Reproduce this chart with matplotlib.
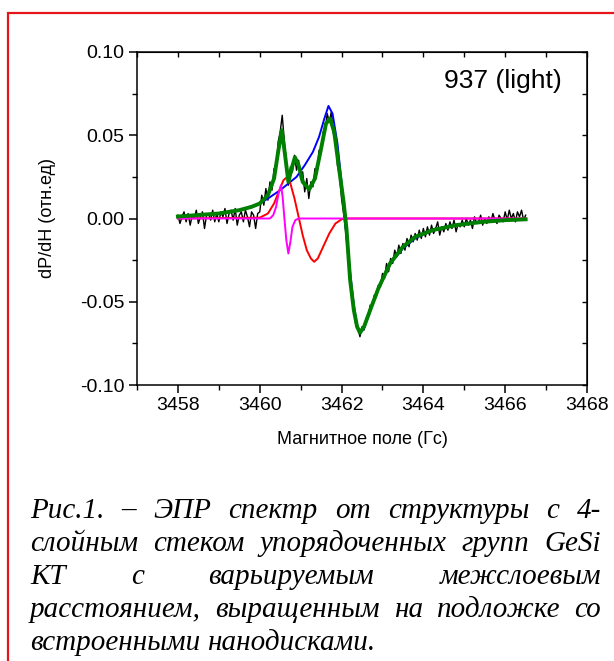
import matplotlib
matplotlib.use("Agg")
import matplotlib.pyplot as plt
from matplotlib.patches import Rectangle
from matplotlib.ticker import MultipleLocator, FormatStrFormatter
import numpy as np

W, H = 614, 661
SANS = "Liberation Sans"
SERIF = "Liberation Serif"

# measured spectrum: 171 samples, 3458.00 ... 3466.50 G, step 0.05 G
FIELD_START, FIELD_STOP, N_SAMPLES = 3458.0, 3466.5, 171
signal = [
    0.002, -0.003, 0.001, 0.004, -0.002, 0.003, -0.004, 0.002, 0.000, 0.005,
    -0.003, 0.001, 0.004, -0.006, 0.002, 0.003, -0.001, 0.005, -0.002, 0.003,
    -0.002, 0.004, 0.001, 0.006, -0.003, 0.003, 0.005, -0.001, 0.006, -0.004,
    0.002, 0.004, -0.002, 0.005, 0.001, -0.005, 0.004, 0.002, -0.006, 0.003,
    0.004, 0.014, 0.008, 0.018, 0.011, 0.022, 0.017, 0.030, 0.028, 0.046,
    0.052, 0.062, 0.047, 0.034, 0.020, 0.031, 0.028, 0.038, 0.029, 0.035,
    0.024, 0.028, 0.016, 0.024, 0.012, 0.022, 0.019, 0.030, 0.027, 0.041,
    0.039, 0.052, 0.053, 0.063, 0.058, 0.064, 0.051, 0.049, 0.032, 0.026,
    0.012, 0.003, -0.008, -0.021, -0.033, -0.047, -0.055, -0.064, -0.066, -0.071,
    -0.065, -0.067, -0.060, -0.059, -0.052, -0.053, -0.046, -0.047, -0.040, -0.041,
    -0.033, -0.036, -0.027, -0.032, -0.024, -0.027, -0.019, -0.023, -0.016, -0.021,
    -0.015, -0.019, -0.012, -0.017, -0.010, -0.014, -0.009, -0.013, -0.007, -0.012,
    -0.006, -0.011, -0.005, -0.010, -0.004, -0.009, -0.006, -0.002, -0.010, -0.005,
    -0.008, -0.003, -0.007, -0.002, -0.006, -0.001, -0.008, -0.003, -0.005, -0.001,
    -0.005, 0.000, -0.004, -0.001, -0.006, 0.001, -0.003, -0.002, 0.002, -0.004,
    0.000, -0.003, 0.001, -0.002, 0.003, -0.001, -0.003, 0.002, 0.000, -0.002,
    0.004, -0.001, 0.005, 0.000, 0.003, -0.002, 0.004, 0.001, 0.005, -0.001, 0.002,
]

# fit components (field, value)
blue_x = [3458.0, 3459.0, 3459.5, 3460.0, 3460.2, 3460.5, 3460.9, 3461.1, 3461.3, 3461.45,
          3461.58, 3461.68, 3461.78, 3461.9, 3462.0, 3462.1, 3462.2, 3462.3, 3462.38, 3462.45,
          3462.55, 3462.7, 3462.9, 3463.2, 3463.5, 3463.8, 3464.2, 3464.7, 3465.3, 3466.0, 3466.5]
blue_y = [0.0012, 0.003, 0.005, 0.009, 0.012, 0.017, 0.025, 0.032, 0.040, 0.049,
          0.060, 0.0676, 0.063, 0.045, 0.022, -0.005, -0.030, -0.052, -0.064, -0.069,
          -0.066, -0.055, -0.042, -0.027, -0.018, -0.012, -0.007, -0.004, -0.002, -0.001, -0.0006]

red_x = [3458.0, 3460.0, 3460.2, 3460.35, 3460.48, 3460.58, 3460.66, 3460.75, 3460.85, 3460.95,
         3461.05, 3461.15, 3461.25, 3461.33, 3461.42, 3461.55, 3461.7, 3461.85, 3462.0, 3462.08, 3466.5]
red_y = [0.0, 0.0005, 0.003, 0.009, 0.017, 0.023, 0.0247, 0.021, 0.012, 0.001,
         -0.010, -0.019, -0.024, -0.026, -0.024, -0.017, -0.009, -0.003, -0.0005, 0.0, 0.0]

mag_x = [3458.0, 3460.25, 3460.33, 3460.4, 3460.46, 3460.52, 3460.56, 3460.6, 3460.65,
         3460.7, 3460.75, 3460.8, 3460.87, 3460.95, 3466.5]
mag_y = [0.0, 0.0, 0.002, 0.007, 0.015, 0.020, 0.013, 0.001, -0.013,
         -0.021, -0.014, -0.005, -0.001, 0.0, 0.0]

green_x = [3458.0, 3459.0, 3459.5, 3459.8, 3460.0, 3460.2, 3460.35, 3460.45, 3460.54, 3460.62,
           3460.7, 3460.78, 3460.86, 3460.95, 3461.05, 3461.21, 3461.35, 3461.5, 3461.62, 3461.72,
           3461.82, 3461.95, 3462.05, 3462.12, 3462.21, 3462.3, 3462.38, 3462.45, 3462.55, 3462.7,
           3462.9, 3463.19, 3463.5, 3463.8, 3464.24, 3464.8, 3465.46, 3466.0, 3466.5]
green_y = [0.0012, 0.003, 0.005, 0.007, 0.009, 0.014, 0.024, 0.040, 0.053, 0.038,
           0.022, 0.030, 0.0368, 0.032, 0.022, 0.0175, 0.024, 0.042, 0.057, 0.060,
           0.052, 0.028, 0.010, -0.006, -0.037, -0.055, -0.065, -0.0686, -0.065, -0.055,
           -0.042, -0.0268, -0.017, -0.011, -0.0069, -0.004, -0.002, -0.001, -0.0005]

sample_label = "937 (light)"
x_label = "Магнитное поле (Гс)"
y_label = "dP/dH (отн.ед)"
caption_lines = [
    "Рис.1. – ЭПР спектр от структуры с 4-",
    "слойным стеком упорядоченных групп GeSi",
    "КТ с варьируемым межслоевым",
    "расстоянием, выращенным на подложке со",
    "встроенными нанодисками.",
]

plt.rcParams["axes.unicode_minus"] = False
fig = plt.figure(figsize=(W / 100, H / 100), dpi=100, facecolor="white")

# red frame around the figure block (runs off the right and bottom)
fig.patches.append(Rectangle((8 / W, -0.05), 1.1, 1 - 13 / H + 0.05, transform=fig.transFigure,
                             fill=False, edgecolor="#E8141B", lw=1.6))

L, R, T, B = 137, 587, 52, 385
ax = fig.add_axes([L / W, 1 - B / H, (R - L) / W, (B - T) / H])

field = np.linspace(FIELD_START, FIELD_STOP, N_SAMPLES)
ax.plot(field, signal, color="black", lw=1.0)
ax.plot(blue_x, blue_y, color="#0000FF", lw=1.4)
ax.plot(red_x, red_y, color="#FF0000", lw=1.4)
ax.plot(mag_x, mag_y, color="#FF00FF", lw=1.4)
ax.plot(green_x, green_y, color="#008000", lw=2.8)

ax.set_xlim(3457, 3468)
ax.set_ylim(-0.10, 0.10)
ax.xaxis.set_major_locator(MultipleLocator(2))
ax.xaxis.set_minor_locator(MultipleLocator(1))
ax.yaxis.set_major_locator(MultipleLocator(0.05))
ax.yaxis.set_minor_locator(MultipleLocator(0.025))
ax.yaxis.set_major_formatter(FormatStrFormatter("%.2f"))
ax.tick_params(which="major", direction="out", length=6, width=1.1, labelsize=14, pad=3)
ax.tick_params(which="minor", direction="out", length=3.5, width=1.0)
for lab in ax.get_xticklabels() + ax.get_yticklabels():
    lab.set_fontfamily(SANS)
for sp in ax.spines.values():
    sp.set_linewidth(1.1)

top = ax.secondary_xaxis("top")
top.xaxis.set_major_locator(MultipleLocator(1))
top.tick_params(direction="in", length=3.5, width=1.0, labeltop=False)
right = ax.secondary_yaxis("right")
right.yaxis.set_major_locator(MultipleLocator(0.025))
right.tick_params(direction="in", length=3.5, width=1.0, labelright=False)

fig.text(562 / W, 1 - 88 / H, sample_label, ha="right", va="baseline",
         fontsize=19, family=SANS)
fig.text(362 / W, 1 - 439 / H, x_label, ha="center", va="center", fontsize=13, family=SANS)
fig.text(47 / W, 1 - 218 / H, y_label, ha="center", va="center", rotation=90,
         fontsize=13, family=SANS)

# justified caption, placed word by word
fig.canvas.draw()
renderer = fig.canvas.get_renderer()
CAP_L, CAP_R = 30, 601
baselines = [518, 551, 584, 617, 650]
fs = 21


def text_width(s):
    t = fig.text(0, 0, s, fontsize=fs, family=SERIF, style="italic")
    w = t.get_window_extent(renderer).width
    t.remove()
    return w


plain_gap = text_width("a b") - text_width("ab")
for i, (line, yb) in enumerate(zip(caption_lines, baselines)):
    words = line.split(" ")
    widths = [text_width(w) for w in words]
    if i == len(caption_lines) - 1:
        gap = plain_gap
    else:
        gap = (CAP_R - CAP_L - sum(widths)) / (len(words) - 1)
    x = CAP_L
    for w, wd in zip(words, widths):
        fig.text(x / W, 1 - yb / H, w, fontsize=fs, family=SERIF, style="italic", va="baseline")
        x += wd + gap

fig.savefig("out.png", dpi=100, facecolor="white")
